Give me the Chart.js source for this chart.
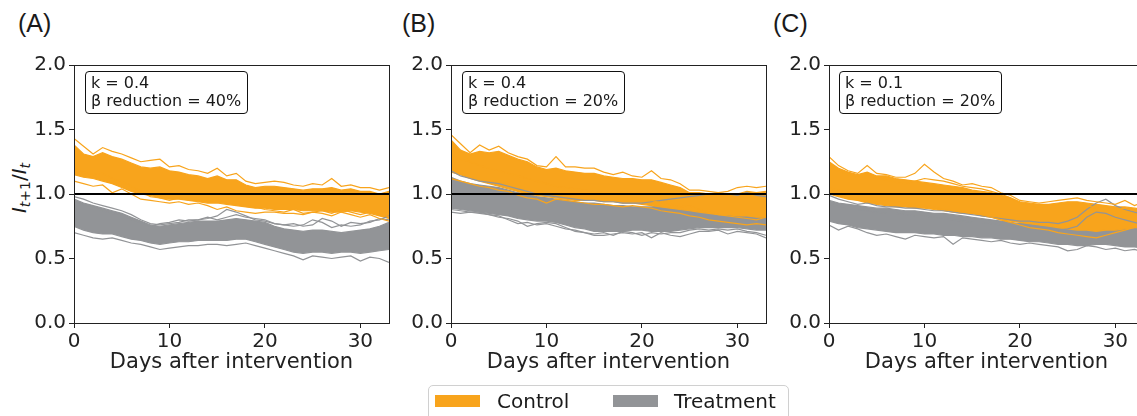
<!DOCTYPE html>
<html>
<head>
<meta charset="utf-8">
<script src="https://cdn.jsdelivr.net/npm/chart.js@4.4.1/dist/chart.umd.min.js"></script>
<style>
  html, body { margin: 0; padding: 0; background: #fff; }
  body { width: 1137px; height: 416px; position: relative; overflow: hidden; font-family: 'DejaVu Sans', sans-serif; color: #1a1a1a; }
  canvas { position: absolute; top: 50px; }
  .tag { position: absolute; top: 8px; font-family: 'Liberation Sans', Arial, sans-serif; font-size: 25px; line-height: 30px; }
  .note { position: absolute; top: 71px; width: 163px; height: 43px; box-sizing: border-box; border: 1px solid #111; border-radius: 4px; font-size: 16px; line-height: 18px; padding: 2px 5px; white-space: nowrap; }
  .ylab { position: absolute; left: 20px; top: 188px; transform: translate(-50%, -50%) rotate(-90deg); font-size: 20px; white-space: nowrap; }
  .ylab sub { font-size: 14px; vertical-align: -4px; }
  .legend { position: absolute; left: 428px; top: 385px; width: 361px; height: 40px; box-sizing: border-box; border: 1px solid #d0d0d0; border-radius: 5px; }
  .swatch { position: absolute; top: 9px; width: 45px; height: 12px; }
  .legend span { position: absolute; top: 2px; font-size: 20px; line-height: 26px; }
</style>
</head>
<body>
<div class="tag" style="left:18px">(A)</div>
<div class="tag" style="left:402px">(B)</div>
<div class="tag" style="left:773px">(C)</div>

<div class="ylab"><i>I</i><sub><i>t</i>+1</sub>/<i>I</i><sub><i>t</i></sub></div>

<canvas id="chartA" width="395" height="325" style="left:0px"></canvas>
<canvas id="chartB" width="395" height="325" style="left:377px"></canvas>
<canvas id="chartC" width="395" height="325" style="left:755px"></canvas>

<div class="note" style="left:85px">k = 0.4<br>β reduction = 40%</div>
<div class="note" style="left:462px">k = 0.4<br>β reduction = 20%</div>
<div class="note" style="left:839px">k = 0.1<br>β reduction = 20%</div>

<div class="legend">
  <div class="swatch" style="left:6px;background:#f8a41c"></div>
  <span style="left:68px">Control</span>
  <div class="swatch" style="left:184px;background:#929497"></div>
  <span style="left:245px">Treatment</span>
</div>

<script>
const days = [0, 1, 2, 3, 4, 5, 6, 7, 8, 9, 10, 11, 12, 13, 14, 15, 16, 17, 18, 19, 20, 21, 22, 23, 24, 25, 26, 27, 28, 29, 30, 31, 32, 33];
const xTicks = [0, 10, 20, 30];
const refLevel = [1, 1];
const refDays = [0, 33];

// (A) k = 0.4, beta reduction 40%
const aControlTop = [1.38, 1.31, 1.29, 1.32, 1.29, 1.27, 1.24, 1.21, 1.20, 1.21, 1.18, 1.17, 1.15, 1.14, 1.12, 1.14, 1.11, 1.11, 1.07, 1.05, 1.06, 1.06, 1.05, 1.04, 1.03, 1.04, 1.04, 1.05, 1.03, 1.04, 1.02, 1.02, 1.00, 1.02];
const aControlBottom = [1.15, 1.13, 1.12, 1.10, 1.08, 1.05, 1.02, 1.00, 0.99, 0.97, 0.96, 0.96, 0.95, 0.94, 0.93, 0.93, 0.92, 0.91, 0.90, 0.89, 0.89, 0.88, 0.88, 0.88, 0.87, 0.87, 0.87, 0.86, 0.86, 0.87, 0.86, 0.85, 0.83, 0.81];
const aControlHigh = [1.43, 1.37, 1.31, 1.36, 1.33, 1.31, 1.28, 1.25, 1.26, 1.27, 1.21, 1.22, 1.19, 1.18, 1.16, 1.20, 1.14, 1.16, 1.10, 1.08, 1.09, 1.10, 1.09, 1.07, 1.06, 1.08, 1.07, 1.12, 1.06, 1.07, 1.05, 1.05, 1.03, 1.05];
const aControlLow = [1.10, 1.08, 1.06, 1.07, 1.01, 1.04, 1.00, 0.96, 0.95, 0.94, 0.93, 0.94, 0.92, 0.93, 0.91, 0.88, 0.90, 0.87, 0.86, 0.85, 0.86, 0.86, 0.85, 0.85, 0.84, 0.86, 0.85, 0.83, 0.86, 0.84, 0.82, 0.84, 0.81, 0.79];
const aControlMid = [1.20, 1.17, 1.15, 1.16, 1.12, 1.10, 1.06, 1.02, 0.98, 0.97, 0.95, 0.97, 0.96, 0.95, 0.94, 0.96, 0.93, 0.92, 0.91, 0.90, 0.88, 0.87, 0.86, 0.88, 0.85, 0.86, 0.87, 0.85, 0.88, 0.86, 0.84, 0.86, 0.85, 0.82];
const aTreatTop = [0.96, 0.93, 0.91, 0.89, 0.87, 0.85, 0.82, 0.79, 0.76, 0.75, 0.76, 0.77, 0.78, 0.79, 0.79, 0.79, 0.80, 0.81, 0.80, 0.79, 0.78, 0.75, 0.73, 0.72, 0.71, 0.72, 0.72, 0.71, 0.70, 0.71, 0.72, 0.73, 0.75, 0.78];
const aTreatBottom = [0.75, 0.72, 0.70, 0.69, 0.69, 0.67, 0.65, 0.64, 0.62, 0.61, 0.62, 0.63, 0.63, 0.64, 0.64, 0.64, 0.64, 0.65, 0.65, 0.63, 0.61, 0.59, 0.57, 0.55, 0.54, 0.55, 0.55, 0.54, 0.55, 0.55, 0.54, 0.55, 0.56, 0.57];
const aTreatHigh = [0.98, 0.96, 0.93, 0.91, 0.89, 0.87, 0.84, 0.80, 0.77, 0.76, 0.77, 0.78, 0.80, 0.80, 0.81, 0.83, 0.88, 0.86, 0.83, 0.80, 0.79, 0.77, 0.76, 0.75, 0.76, 0.80, 0.78, 0.74, 0.76, 0.75, 0.76, 0.79, 0.80, 0.83];
const aTreatLow = [0.70, 0.68, 0.66, 0.65, 0.66, 0.64, 0.62, 0.61, 0.59, 0.57, 0.58, 0.59, 0.60, 0.60, 0.61, 0.61, 0.60, 0.61, 0.62, 0.60, 0.58, 0.56, 0.54, 0.52, 0.49, 0.52, 0.51, 0.50, 0.51, 0.52, 0.48, 0.51, 0.50, 0.47];
const aTreatMid = [0.94, 0.92, 0.90, 0.87, 0.85, 0.84, 0.80, 0.78, 0.75, 0.77, 0.78, 0.80, 0.79, 0.80, 0.82, 0.80, 0.82, 0.84, 0.82, 0.81, 0.80, 0.77, 0.76, 0.77, 0.75, 0.76, 0.81, 0.79, 0.75, 0.78, 0.77, 0.78, 0.81, 0.80];

// (B) k = 0.4, beta reduction 20%
const bControlTop = [1.42, 1.34, 1.31, 1.33, 1.32, 1.33, 1.30, 1.27, 1.25, 1.21, 1.19, 1.20, 1.18, 1.17, 1.16, 1.16, 1.14, 1.13, 1.12, 1.12, 1.11, 1.11, 1.09, 1.07, 1.05, 1.01, 1.01, 1.00, 0.99, 0.99, 1.00, 1.02, 1.01, 1.02];
const bControlBottom = [1.17, 1.15, 1.12, 1.10, 1.08, 1.06, 1.04, 1.02, 1.00, 0.99, 0.98, 0.97, 0.96, 0.95, 0.95, 0.95, 0.94, 0.94, 0.93, 0.93, 0.92, 0.91, 0.90, 0.89, 0.88, 0.87, 0.86, 0.85, 0.84, 0.84, 0.83, 0.83, 0.82, 0.82];
const bControlHigh = [1.46, 1.39, 1.32, 1.38, 1.34, 1.37, 1.32, 1.29, 1.27, 1.22, 1.21, 1.29, 1.21, 1.21, 1.20, 1.20, 1.17, 1.15, 1.17, 1.14, 1.13, 1.18, 1.12, 1.11, 1.08, 1.03, 1.03, 1.02, 1.01, 1.02, 1.05, 1.06, 1.05, 1.06];
const bControlLow = [1.12, 1.10, 1.08, 1.06, 1.05, 1.03, 1.02, 0.99, 0.97, 0.96, 0.93, 0.96, 0.95, 0.94, 0.93, 0.92, 0.92, 0.91, 0.90, 0.91, 0.90, 0.89, 0.87, 0.86, 0.85, 0.83, 0.82, 0.80, 0.79, 0.78, 0.77, 0.76, 0.77, 0.76];
const bControlMid = [1.30, 1.27, 1.25, 1.22, 1.20, 1.18, 1.16, 1.14, 1.12, 1.10, 1.08, 1.06, 1.05, 1.04, 1.03, 1.02, 1.01, 1.00, 0.99, 0.97, 0.96, 0.95, 0.93, 0.92, 0.90, 0.91, 0.88, 0.86, 0.84, 0.83, 0.82, 0.81, 0.80, 0.82];
const bTreatTop = [1.13, 1.10, 1.08, 1.07, 1.06, 1.05, 1.03, 1.01, 1.00, 0.98, 0.97, 0.96, 0.95, 0.94, 0.93, 0.93, 0.92, 0.91, 0.91, 0.90, 0.90, 0.90, 0.91, 0.92, 0.93, 0.94, 0.95, 0.96, 0.97, 0.96, 0.95, 0.94, 0.94, 0.93];
const bTreatBottom = [0.89, 0.88, 0.87, 0.86, 0.85, 0.84, 0.83, 0.81, 0.80, 0.79, 0.79, 0.78, 0.76, 0.74, 0.73, 0.71, 0.71, 0.71, 0.71, 0.72, 0.72, 0.71, 0.71, 0.71, 0.72, 0.73, 0.74, 0.74, 0.74, 0.74, 0.74, 0.73, 0.72, 0.72];
const bTreatHigh = [1.18, 1.14, 1.12, 1.10, 1.09, 1.08, 1.06, 1.04, 1.02, 1.00, 0.99, 0.98, 0.97, 0.96, 0.95, 0.95, 0.94, 0.94, 0.93, 0.93, 0.93, 0.94, 0.95, 0.96, 0.97, 0.98, 0.99, 1.00, 1.01, 1.00, 0.99, 1.01, 0.99, 0.98];
const bTreatLow = [0.86, 0.85, 0.86, 0.85, 0.84, 0.82, 0.81, 0.79, 0.75, 0.77, 0.78, 0.77, 0.74, 0.71, 0.70, 0.68, 0.68, 0.69, 0.70, 0.69, 0.70, 0.66, 0.70, 0.68, 0.67, 0.69, 0.71, 0.71, 0.72, 0.69, 0.71, 0.70, 0.69, 0.66];
const bTreatMid = [0.88, 0.87, 0.86, 0.86, 0.84, 0.83, 0.80, 0.77, 0.78, 0.76, 0.77, 0.75, 0.73, 0.72, 0.70, 0.69, 0.70, 0.68, 0.71, 0.70, 0.68, 0.70, 0.69, 0.70, 0.70, 0.72, 0.73, 0.72, 0.73, 0.72, 0.73, 0.71, 0.70, 0.68];

// (C) k = 0.1, beta reduction 20%
const cControlTop = [1.25, 1.20, 1.17, 1.15, 1.17, 1.14, 1.14, 1.12, 1.11, 1.10, 1.09, 1.08, 1.07, 1.06, 1.05, 1.03, 1.02, 1.01, 0.99, 0.97, 0.94, 0.93, 0.92, 0.92, 0.93, 0.94, 0.94, 0.93, 0.92, 0.91, 0.90, 0.90, 0.89, 0.88];
const cControlBottom = [1.00, 0.98, 0.96, 0.95, 0.93, 0.92, 0.91, 0.90, 0.90, 0.89, 0.89, 0.88, 0.87, 0.86, 0.85, 0.85, 0.83, 0.82, 0.80, 0.79, 0.78, 0.77, 0.76, 0.75, 0.74, 0.73, 0.72, 0.72, 0.71, 0.72, 0.72, 0.73, 0.74, 0.74];
const cControlHigh = [1.29, 1.22, 1.18, 1.16, 1.22, 1.16, 1.15, 1.13, 1.13, 1.16, 1.23, 1.17, 1.12, 1.10, 1.07, 1.08, 1.06, 1.05, 1.01, 0.99, 0.95, 0.94, 0.93, 0.94, 0.95, 0.96, 0.97, 0.95, 0.94, 0.93, 0.92, 0.95, 0.91, 0.94];
const cControlLow = [1.20, 1.18, 1.15, 1.13, 1.14, 1.12, 1.11, 1.09, 1.08, 1.10, 1.12, 1.11, 1.10, 1.08, 1.06, 1.05, 1.04, 1.02, 1.00, 0.97, 0.93, 0.91, 0.90, 0.91, 0.92, 0.93, 0.93, 0.91, 0.89, 0.90, 0.88, 0.89, 0.87, 0.85];
const cControlMid = [1.05, 1.03, 1.01, 0.99, 0.98, 0.96, 0.95, 0.94, 0.93, 0.92, 0.91, 0.90, 0.88, 0.87, 0.86, 0.85, 0.84, 0.82, 0.80, 0.78, 0.76, 0.74, 0.73, 0.72, 0.70, 0.69, 0.68, 0.67, 0.66, 0.68, 0.70, 0.72, 0.74, 0.77];
const cTreatTop = [0.95, 0.93, 0.92, 0.91, 0.90, 0.89, 0.89, 0.88, 0.87, 0.87, 0.86, 0.85, 0.85, 0.84, 0.83, 0.82, 0.81, 0.80, 0.79, 0.78, 0.77, 0.77, 0.76, 0.76, 0.75, 0.75, 0.76, 0.78, 0.80, 0.82, 0.83, 0.82, 0.81, 0.80];
const cTreatBottom = [0.79, 0.77, 0.76, 0.74, 0.73, 0.72, 0.71, 0.70, 0.70, 0.70, 0.69, 0.69, 0.68, 0.68, 0.67, 0.67, 0.66, 0.66, 0.65, 0.65, 0.64, 0.63, 0.63, 0.62, 0.61, 0.61, 0.60, 0.60, 0.61, 0.61, 0.60, 0.59, 0.59, 0.58];
const cTreatHigh = [0.99, 0.96, 0.94, 0.92, 0.93, 0.91, 0.90, 0.90, 0.89, 0.89, 0.88, 0.87, 0.87, 0.86, 0.85, 0.84, 0.83, 0.82, 0.81, 0.80, 0.79, 0.79, 0.78, 0.78, 0.77, 0.79, 0.82, 0.88, 0.93, 0.96, 0.91, 0.88, 0.86, 0.84];
const cTreatLow = [0.76, 0.72, 0.75, 0.73, 0.70, 0.68, 0.69, 0.67, 0.65, 0.68, 0.67, 0.66, 0.67, 0.61, 0.66, 0.65, 0.64, 0.63, 0.64, 0.62, 0.61, 0.62, 0.61, 0.60, 0.59, 0.56, 0.57, 0.60, 0.59, 0.57, 0.58, 0.56, 0.57, 0.55];
const cTreatMid = [0.92, 0.90, 0.88, 0.88, 0.87, 0.86, 0.85, 0.85, 0.84, 0.83, 0.83, 0.82, 0.81, 0.80, 0.79, 0.78, 0.78, 0.77, 0.76, 0.75, 0.74, 0.74, 0.73, 0.72, 0.72, 0.73, 0.75, 0.82, 0.86, 0.85, 0.82, 0.80, 0.78, 0.76];

const ORANGE = '#f8a41c';
const GREY = '#929497';
const INK = '#222';

function pts(values, xs = days) {
  return values.map((y, i) => ({ x: xs[i], y }));
}

function line(values, color, order, extra = {}) {
  return {
    data: pts(values),
    borderColor: color,
    backgroundColor: color,
    borderWidth: 1.2,
    pointRadius: 0,
    tension: 0,
    fill: false,
    order,
    ...extra,
  };
}

// top and right spines, like the matplotlib frame
const framePlugin = {
  id: 'frame',
  afterDraw(chart) {
    const { ctx, chartArea } = chart;
    ctx.save();
    ctx.strokeStyle = INK;
    ctx.lineWidth = 1;
    ctx.strokeRect(chartArea.left + 0.5, chartArea.top + 0.5, chartArea.right - chartArea.left, chartArea.bottom - chartArea.top);
    ctx.restore();
  },
};

function mountPanel(canvasId, s) {
  // lower order is drawn on top
  const datasets = [
    {
      data: pts(refLevel, refDays),
      borderColor: '#000',
      borderWidth: 2,
      pointRadius: 0,
      fill: false,
      order: 0,
    },
    line(s.controlHigh, ORANGE, 1),
    line(s.controlLow, ORANGE, 1),
    line(s.controlMid, ORANGE, 1),
    line(s.treatHigh, GREY, 2),
    line(s.treatLow, GREY, 2),
    line(s.treatMid, GREY, 2),
    line(s.controlTop, ORANGE, 3),
    line(s.controlBottom, ORANGE, 3, { fill: '-1' }),
    line(s.treatTop, GREY, 4),
    line(s.treatBottom, GREY, 4, { fill: '-1' }),
  ];

  return new Chart(document.getElementById(canvasId), {
    type: 'line',
    data: { datasets },
    options: {
      responsive: false,
      animation: false,
      devicePixelRatio: 1,
      layout: { padding: { top: 12, right: 6, left: 0, bottom: 0 } },
      plugins: {
        legend: { display: false },
        tooltip: { enabled: false },
      },
      scales: {
        x: {
          type: 'linear',
          min: 0,
          max: 33,
          afterBuildTicks: (scale) => {
            scale.ticks = xTicks.map((value) => ({ value }));
          },
          afterFit: (scale) => {
            scale.height = 52;
          },
          ticks: {
            color: INK,
            font: { family: 'DejaVu Sans', size: 20 },
            padding: 2,
            maxRotation: 0,
          },
          grid: {
            drawOnChartArea: false,
            tickLength: 5,
            tickColor: INK,
          },
          border: { color: INK, width: 1 },
          title: {
            display: true,
            text: 'Days after intervention',
            color: INK,
            font: { family: 'DejaVu Sans', size: 21 },
            padding: { top: 0, bottom: 0 },
          },
        },
        y: {
          min: 0,
          max: 2,
          afterFit: (scale) => {
            scale.width = 74;
          },
          ticks: {
            stepSize: 0.5,
            color: INK,
            font: { family: 'DejaVu Sans', size: 20 },
            padding: 3,
            callback: (v) => v.toFixed(1),
          },
          grid: {
            drawOnChartArea: false,
            tickLength: 5,
            tickColor: INK,
          },
          border: { color: INK, width: 1 },
        },
      },
    },
    plugins: [framePlugin],
  });
}

mountPanel('chartA', {
  controlTop: aControlTop, controlBottom: aControlBottom, controlHigh: aControlHigh, controlLow: aControlLow, controlMid: aControlMid,
  treatTop: aTreatTop, treatBottom: aTreatBottom, treatHigh: aTreatHigh, treatLow: aTreatLow, treatMid: aTreatMid,
});

mountPanel('chartB', {
  controlTop: bControlTop, controlBottom: bControlBottom, controlHigh: bControlHigh, controlLow: bControlLow, controlMid: bControlMid,
  treatTop: bTreatTop, treatBottom: bTreatBottom, treatHigh: bTreatHigh, treatLow: bTreatLow, treatMid: bTreatMid,
});

mountPanel('chartC', {
  controlTop: cControlTop, controlBottom: cControlBottom, controlHigh: cControlHigh, controlLow: cControlLow, controlMid: cControlMid,
  treatTop: cTreatTop, treatBottom: cTreatBottom, treatHigh: cTreatHigh, treatLow: cTreatLow, treatMid: cTreatMid,
});
</script>
</body>
</html>
